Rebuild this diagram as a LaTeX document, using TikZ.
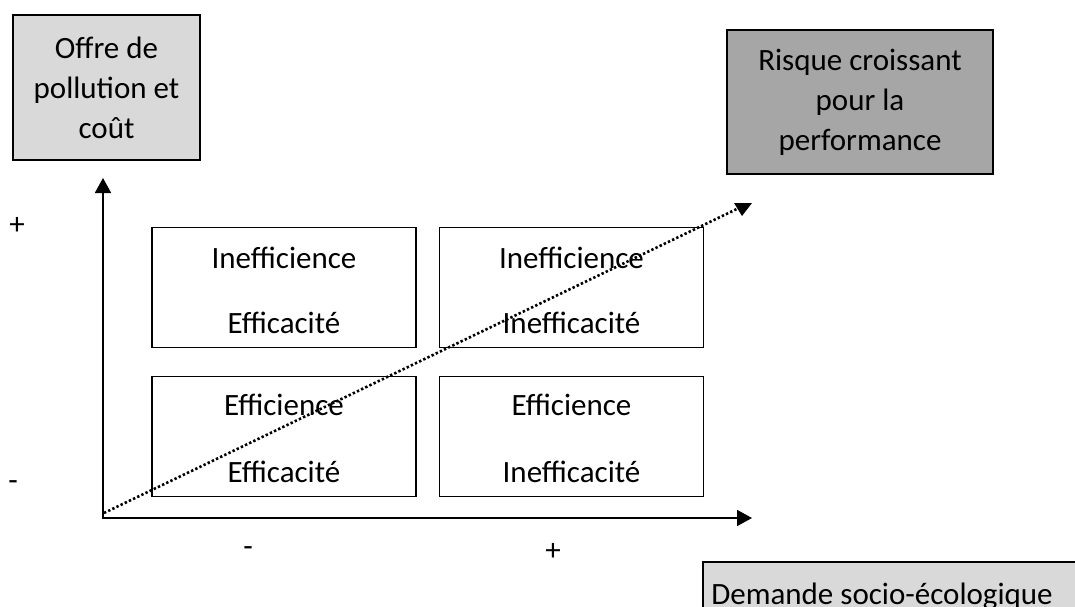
\documentclass[tikz,border=0pt]{standalone}
\usepackage{fontspec}
\setmainfont{Carlito}
\usetikzlibrary{arrows.meta}
\definecolor{lightbox}{HTML}{D9D9D9}
\definecolor{darkbox}{HTML}{A6A6A6}
\begin{document}
\begin{tikzpicture}[x=1pt,y=-1pt,
  every node/.style={font=\fontsize{31}{40}\selectfont, inner sep=0pt},
  titlebox/.style={draw, line width=1.8pt, align=center, minimum width=#1},
  cell/.style={draw, line width=1.6pt, minimum width=264pt, minimum height=120pt},
  lbl/.style={anchor=base},
  axis/.style={line width=1.8pt, -{Triangle[length=15pt,width=16pt]}},
  trend/.style={line width=2.6pt, dash pattern=on 2.4pt off 2.2pt}]
  \clip (0,0) rectangle (1075,607);

  % heading boxes
  \node[titlebox=187pt, minimum height=145pt, fill=lightbox] (offre) at (106.5,87.5)
    {Offre de\\pollution et\\coût};
  \node[titlebox=266pt, minimum height=144pt, fill=darkbox] (risque) at (860,102)
    {Risque croissant\\pour la\\performance};
  \draw[line width=1.8pt, fill=lightbox] (703,562) rectangle (1090,640);
  \node[lbl] (demande) at (882,604) {Demande socio-écologique};

  % the four cells
  \node[cell] (c1) at (284,287.5) {};
  \node[cell] (c2) at (571.5,287.5) {};
  \node[cell] (c3) at (284,436.5) {};
  \node[cell] (c4) at (571.5,436.5) {};

  \node[lbl] (t1a) at (284,268) {Inefficience};
  \node[lbl] (t1b) at (284,333) {Efficacité};
  \node[lbl] (t2a) at (571.5,268) {Inefficience};
  \node[lbl] (t2b) at (571.5,333) {Inefficacité};
  \node[lbl] (t3a) at (284,415) {Efficience};
  \node[lbl] (t3b) at (284,482) {Efficacité};
  \node[lbl] (t4a) at (571.5,415) {Efficience};
  \node[lbl] (t4b) at (571.5,482) {Inefficacité};

  % axes
  \coordinate (o) at (103,518);
  \coordinate (ytip) at (103,178);
  \coordinate (xtip) at (752,518);
  \draw[axis] (o) -- (ytip);
  \draw[axis] ([xshift=-0.9pt]o) -- (xtip);

  % axis signs
  \node (yplus) at (17,226) {+};
  \node (yminus) at (13,486) {-};
  \node (xminus) at (248,552) {-};
  \node (xplus) at (553,552) {+};

  % rising risk trend
  \coordinate (ts) at (104,513);
  \coordinate (te) at (741,207);
  \draw[trend] (ts) -- (te);
  \fill (734,203) -- (752,203) -- (742,216) -- cycle;
\end{tikzpicture}
\end{document}
